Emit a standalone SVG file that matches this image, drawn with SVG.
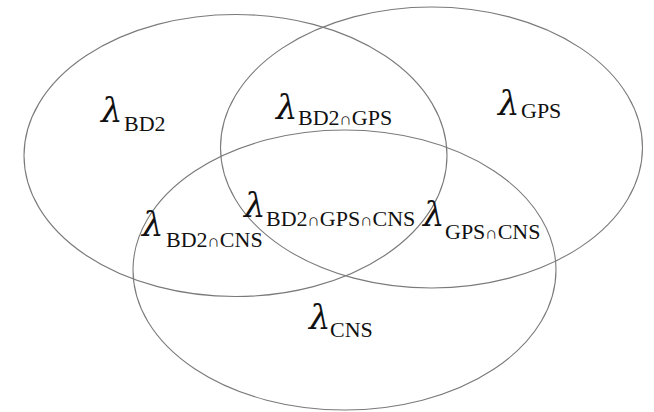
<svg xmlns="http://www.w3.org/2000/svg" width="654" height="412" viewBox="0 0 654 412">
  <style>
    .set { fill: none; stroke: #7a7a7a; stroke-width: 1.1; }
    .lam { font-family: "DejaVu Serif", "Liberation Serif", serif; font-style: italic; font-size: 34px; fill: #111; }
    .sub { font-family: "Liberation Serif", "Times New Roman", serif; font-size: 22px; fill: #111; }
    .cap { font-size: 17px; }
  </style>
  <rect width="654" height="412" fill="#ffffff"/>

  <!-- the three sets -->
  <g id="set-bd2"><ellipse class="set" cx="235.5" cy="155.5" rx="211.5" ry="141"/></g>
  <g id="set-gps"><ellipse class="set" cx="431.5" cy="147.5" rx="211" ry="140.5"/></g>
  <g id="set-cns"><ellipse class="set" cx="344.5" cy="270" rx="211.5" ry="140"/></g>

  <!-- region labels -->
  <g id="label-bd2">
    <text class="lam" x="101" y="122">λ</text>
    <text class="sub" x="124" y="131">BD2</text>
  </g>
  <g id="label-gps">
    <text class="lam" x="498" y="115">λ</text>
    <text class="sub" x="521" y="118">GPS</text>
  </g>
  <g id="label-bd2-gps">
    <text class="lam" x="276" y="119">λ</text>
    <text class="sub" x="298" y="125">BD2<tspan class="cap">∩</tspan>GPS</text>
  </g>
  <g id="label-bd2-gps-cns">
    <text class="lam" x="244" y="217">λ</text>
    <text class="sub" x="266" y="226">BD2<tspan class="cap">∩</tspan>GPS<tspan class="cap">∩</tspan>CNS</text>
  </g>
  <g id="label-gps-cns">
    <text class="lam" x="423" y="226">λ</text>
    <text class="sub" x="445" y="239">GPS<tspan class="cap">∩</tspan>CNS</text>
  </g>
  <g id="label-bd2-cns">
    <text class="lam" x="142" y="236">λ</text>
    <text class="sub" x="166" y="247">BD2<tspan class="cap">∩</tspan>CNS</text>
  </g>
  <g id="label-cns">
    <text class="lam" x="309" y="329">λ</text>
    <text class="sub" x="330" y="337">CNS</text>
  </g>
</svg>
